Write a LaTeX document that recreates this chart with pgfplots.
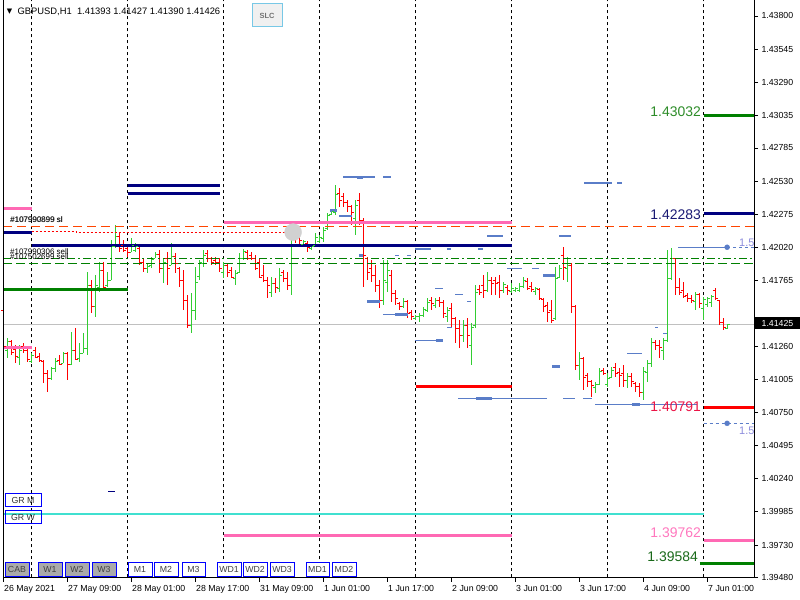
\documentclass[border=0pt]{standalone}
\usepackage{pgfplots}
\pgfplotsset{compat=1.18}
\usepackage{pgfplotstable}
\usepackage{fontspec}
\setmainfont{Liberation Sans}
\newfontfamily\dejavu{DejaVu Sans}
\definecolor{barup}{RGB}{50,205,50}
\definecolor{bardn}{RGB}{255,0,0}
\definecolor{lvgreen}{RGB}{0,128,0}
\definecolor{lvnavy}{RGB}{0,0,128}
\definecolor{lvpink}{RGB}{255,105,180}
\definecolor{lvcyan}{RGB}{64,224,208}
\definecolor{lvred}{RGB}{255,0,0}
\definecolor{lvorange}{RGB}{255,69,0}
\definecolor{lvblue}{RGB}{90,125,200}
\definecolor{lvlav}{RGB}{140,140,220}
\definecolor{btngray}{RGB}{170,170,170}
\definecolor{slcborder}{RGB}{120,200,230}
\definecolor{curgray}{RGB}{192,192,192}

\pgfplotstableread{
i h l o c d
0 1.41590 1.41213 1.41536 1.41259 -1
1 1.41320 1.41166 1.41228 1.41297 1
2 1.41305 1.41189 1.41297 1.41213 -1
3 1.41266 1.41128 1.41236 1.41182 -1
4 1.41266 1.41112 1.41174 1.41228 1
5 1.41282 1.41205 1.41259 1.41228 -1
6 1.41251 1.41136 1.41228 1.41159 -1
7 1.41205 1.41128 1.41143 1.41189 1
8 1.41251 1.41166 1.41228 1.41174 -1
9 1.41205 1.41136 1.41182 1.41151 -1
10 1.41151 1.40974 1.41143 1.41051 -1
11 1.41074 1.40905 1.41051 1.41012 -1
12 1.41097 1.40997 1.41012 1.41089 1
13 1.41166 1.41059 1.41089 1.41143 1
14 1.41189 1.41112 1.41151 1.41120 -1
15 1.41213 1.41128 1.41128 1.41205 1
16 1.41213 1.40997 1.41205 1.41120 -1
17 1.41367 1.41112 1.41120 1.41228 1
18 1.41397 1.41151 1.41228 1.41159 -1
19 1.41282 1.41136 1.41166 1.41205 1
20 1.41359 1.41205 1.41205 1.41243 1
21 1.41829 1.41189 1.41243 1.41728 1
22 1.41767 1.41513 1.41728 1.41567 -1
23 1.41805 1.41482 1.41567 1.41728 1
24 1.41906 1.41675 1.41713 1.41844 1
25 1.41906 1.41705 1.41844 1.41713 -1
26 1.41829 1.41713 1.41728 1.41767 1
27 1.42075 1.41767 1.41767 1.42029 1
28 1.42190 1.42013 1.42029 1.42106 1
29 1.42129 1.41983 1.42106 1.42013 -1
30 1.42075 1.41983 1.42036 1.41998 -1
31 1.42036 1.41944 1.42013 1.41983 -1
32 1.42090 1.41983 1.41983 1.42036 1
33 1.42052 1.41983 1.41998 1.42029 1
34 1.42021 1.41882 1.42013 1.41906 -1
35 1.41936 1.41829 1.41906 1.41859 -1
36 1.41898 1.41821 1.41859 1.41875 1
37 1.41944 1.41859 1.41882 1.41929 1
38 1.41983 1.41936 1.41936 1.41967 1
39 1.41998 1.41821 1.41967 1.41859 -1
40 1.41936 1.41744 1.41859 1.41906 1
41 1.41983 1.41728 1.41936 1.41859 -1
42 1.42052 1.41882 1.41882 1.41952 1
43 1.41975 1.41821 1.41952 1.41898 -1
44 1.41867 1.41713 1.41859 1.41767 -1
45 1.41844 1.41536 1.41767 1.41613 -1
46 1.41651 1.41397 1.41613 1.41420 -1
47 1.41667 1.41359 1.41420 1.41536 1
48 1.41867 1.41459 1.41536 1.41752 1
49 1.41921 1.41767 1.41798 1.41906 1
50 1.41998 1.41867 1.41898 1.41959 1
51 1.41998 1.41906 1.41975 1.41936 -1
52 1.41944 1.41882 1.41936 1.41906 -1
53 1.41944 1.41882 1.41921 1.41906 -1
54 1.41936 1.41829 1.41906 1.41859 -1
55 1.41906 1.41782 1.41829 1.41882 1
56 1.41898 1.41790 1.41882 1.41829 -1
57 1.41867 1.41782 1.41844 1.41790 -1
58 1.41844 1.41728 1.41782 1.41821 1
59 1.41975 1.41821 1.41829 1.41936 1
60 1.42006 1.41921 1.41936 1.41990 1
61 1.41998 1.41921 1.41983 1.41936 -1
62 1.41983 1.41921 1.41959 1.41936 -1
63 1.41959 1.41844 1.41936 1.41859 -1
64 1.41936 1.41782 1.41906 1.41790 -1
65 1.41882 1.41752 1.41805 1.41767 -1
66 1.41790 1.41628 1.41767 1.41728 -1
67 1.41790 1.41636 1.41675 1.41744 1
68 1.41782 1.41667 1.41744 1.41713 -1
69 1.41859 1.41675 1.41705 1.41805 1
70 1.41844 1.41752 1.41829 1.41782 -1
71 1.41829 1.41690 1.41782 1.41728 -1
72 1.42152 1.41651 1.41728 1.42113 1
73 1.42167 1.42052 1.42129 1.42090 -1
74 1.42152 1.42036 1.42113 1.42075 -1
75 1.42075 1.42036 1.42044 1.42067 1
76 1.42067 1.41983 1.42052 1.42021 -1
77 1.42036 1.41998 1.42013 1.42029 1
78 1.42129 1.42036 1.42036 1.42098 1
79 1.42113 1.42052 1.42067 1.42098 1
80 1.42175 1.42060 1.42090 1.42152 1
81 1.42283 1.42152 1.42167 1.42267 1
82 1.42306 1.42267 1.42275 1.42298 1
83 1.42498 1.42267 1.42291 1.42429 1
84 1.42475 1.42329 1.42437 1.42383 -1
85 1.42437 1.42329 1.42414 1.42368 -1
86 1.42383 1.42291 1.42368 1.42337 -1
87 1.42344 1.42190 1.42337 1.42291 -1
88 1.42383 1.42113 1.42244 1.42344 1
89 1.42437 1.42190 1.42383 1.42229 -1
90 1.42244 1.41713 1.42229 1.41959 -1
91 1.41944 1.41767 1.41936 1.41829 -1
92 1.41921 1.41752 1.41859 1.41805 -1
93 1.41882 1.41675 1.41805 1.41728 -1
94 1.41767 1.41551 1.41728 1.41613 -1
95 1.41921 1.41574 1.41613 1.41767 1
96 1.41921 1.41675 1.41752 1.41844 1
97 1.41844 1.41598 1.41805 1.41667 -1
98 1.41690 1.41574 1.41667 1.41628 -1
99 1.41598 1.41536 1.41590 1.41567 -1
100 1.41628 1.41551 1.41567 1.41605 1
101 1.41613 1.41474 1.41605 1.41513 -1
102 1.41536 1.41459 1.41521 1.41490 -1
103 1.41497 1.41459 1.41474 1.41490 1
104 1.41513 1.41444 1.41490 1.41497 1
105 1.41559 1.41482 1.41497 1.41544 1
106 1.41628 1.41521 1.41536 1.41598 1
107 1.41636 1.41536 1.41613 1.41590 -1
108 1.41628 1.41551 1.41574 1.41613 1
109 1.41636 1.41559 1.41613 1.41598 -1
110 1.41613 1.41474 1.41598 1.41513 -1
111 1.41559 1.41444 1.41490 1.41536 1
112 1.41590 1.41397 1.41551 1.41474 -1
113 1.41482 1.41282 1.41474 1.41397 -1
114 1.41459 1.41243 1.41397 1.41343 -1
115 1.41459 1.41290 1.41343 1.41420 1
116 1.41474 1.41243 1.41420 1.41343 -1
117 1.41436 1.41112 1.41266 1.41405 1
118 1.41728 1.41397 1.41420 1.41675 1
119 1.41728 1.41651 1.41698 1.41675 -1
120 1.41805 1.41628 1.41728 1.41690 -1
121 1.41829 1.41675 1.41690 1.41767 1
122 1.41790 1.41651 1.41767 1.41744 -1
123 1.41790 1.41651 1.41767 1.41744 -1
124 1.41805 1.41628 1.41752 1.41690 -1
125 1.41752 1.41667 1.41690 1.41736 1
126 1.41728 1.41651 1.41713 1.41690 -1
127 1.41744 1.41667 1.41682 1.41705 1
128 1.41713 1.41675 1.41690 1.41705 1
129 1.41744 1.41675 1.41690 1.41721 1
130 1.41790 1.41705 1.41721 1.41767 1
131 1.41782 1.41690 1.41759 1.41705 -1
132 1.41752 1.41675 1.41721 1.41698 -1
133 1.41713 1.41651 1.41682 1.41705 1
134 1.41705 1.41613 1.41698 1.41628 -1
135 1.41628 1.41521 1.41621 1.41567 -1
136 1.41598 1.41444 1.41574 1.41521 -1
137 1.41613 1.41436 1.41536 1.41459 -1
138 1.41867 1.41459 1.41474 1.41782 1
139 1.41882 1.41782 1.41790 1.41859 1
140 1.42021 1.41767 1.41959 1.41867 -1
141 1.41944 1.41752 1.41859 1.41882 1
142 1.41898 1.41513 1.41882 1.41567 -1
143 1.41574 1.41074 1.41567 1.41112 -1
144 1.41213 1.40997 1.41112 1.41166 1
145 1.41174 1.40920 1.41166 1.41020 -1
146 1.41051 1.40943 1.41035 1.40989 -1
147 1.40997 1.40866 1.40989 1.40958 -1
148 1.40982 1.40897 1.40943 1.40966 1
149 1.41089 1.40958 1.40966 1.41066 1
150 1.41089 1.41035 1.41074 1.41051 -1
151 1.41051 1.40943 1.40966 1.41012 1
152 1.41097 1.41012 1.41020 1.41074 1
153 1.41128 1.41020 1.41097 1.41051 -1
154 1.41089 1.40943 1.41059 1.41035 -1
155 1.41112 1.40943 1.41051 1.40997 -1
156 1.41051 1.40935 1.40997 1.41028 1
157 1.41051 1.40943 1.41028 1.40989 -1
158 1.40982 1.40905 1.40974 1.40951 -1
159 1.40974 1.40866 1.40951 1.40905 -1
160 1.41097 1.40843 1.40905 1.41066 1
161 1.41151 1.40982 1.41059 1.41128 1
162 1.41320 1.41097 1.41128 1.41290 1
163 1.41305 1.41228 1.41290 1.41266 -1
164 1.41305 1.41166 1.41266 1.41251 -1
165 1.41320 1.41151 1.41228 1.41305 1
166 1.41998 1.41290 1.41305 1.41782 1
167 1.42013 1.41767 1.41782 1.41936 1
168 1.41936 1.41651 1.41936 1.41713 -1
169 1.41782 1.41651 1.41713 1.41675 -1
170 1.41752 1.41628 1.41690 1.41644 -1
171 1.41667 1.41598 1.41651 1.41628 -1
172 1.41651 1.41590 1.41628 1.41613 -1
173 1.41675 1.41536 1.41605 1.41659 1
174 1.41667 1.41551 1.41659 1.41590 -1
175 1.41636 1.41459 1.41551 1.41621 1
176 1.41636 1.41559 1.41582 1.41628 1
177 1.41651 1.41559 1.41598 1.41644 1
178 1.41705 1.41613 1.41690 1.41628 -1
179 1.41613 1.41420 1.41613 1.41444 -1
180 1.41474 1.41382 1.41444 1.41405 -1
181 1.41427 1.41390 1.41393 1.41426 1
}\bars

\begin{document}
\begin{tikzpicture}
\path[use as bounding box] (0,0) rectangle (800bp,600bp);
\begin{axis}[
  at={(3bp,22.5bp)}, anchor=south west,
  scale only axis, width=751bp, height=577.5bp,
  xmin=-0.125, xmax=187.625,
  ymin=1.39480, ymax=1.43923,
  axis x line*=bottom, axis y line*=right,
  axis line style={line width=1bp, black},
  tick align=outside, major tick length=4bp,
  tick style={black, line width=0.8bp},
  minor tick num=0,
  xtick={0,16,32,48,64,80,96,112,128,144,160,176},
  xticklabels={26 May 2021,27 May 09:00,28 May 01:00,28 May 17:00,31 May 09:00,1 Jun 01:00,1 Jun 17:00,2 Jun 09:00,3 Jun 01:00,3 Jun 17:00,4 Jun 09:00,7 Jun 01:00},
  ytick={1.43800,1.43545,1.43290,1.43035,1.42785,1.42530,1.42275,1.42020,1.41765,1.41260,1.41005,1.40750,1.40495,1.40240,1.39985,1.39730,1.39480},
  yticklabels={1.43800,1.43545,1.43290,1.43035,1.42785,1.42530,1.42275,1.42020,1.41765,1.41260,1.41005,1.40750,1.40495,1.40240,1.39985,1.39730,1.39480},
  ticklabel style={font=\fontsize{8.8}{10}\selectfont, text=black},
  xticklabel style={anchor=north west, xshift=-2.8bp},
  yticklabel style={anchor=west},
  unbounded coords=jump,
]
% day separators
\pgfplotsinvokeforeach{7,31,55,79,103,127,151,175}{
  \addplot[black, line width=1bp, dash pattern=on 3bp off 3bp, forget plot] coordinates {(#1,1.3948) (#1,1.43923)};
}
% current price line
\addplot[curgray, line width=1bp, forget plot] coordinates {(-0.125,1.41425) (187.625,1.41425)};

% bars: high-low lines, one per bar, read from the table
\pgfplotsforeachungrouped \k in {0,...,181}{%
  \pgfplotstablegetelem{\k}{h}\of\bars \let\hv\pgfplotsretval
  \pgfplotstablegetelem{\k}{l}\of\bars \let\lv\pgfplotsretval
  \pgfplotstablegetelem{\k}{d}\of\bars
  \ifnum\pgfplotsretval>0 \def\bc{barup}\else\def\bc{bardn}\fi
  \edef\doplot{\noexpand\addplot[\bc, line width=1.5bp, forget plot] coordinates {(\k,\hv) (\k,\lv)};}%
  \doplot
}
% open / close ticks
\addplot[only marks, mark=-, mark size=1.1bp, barup, line width=1bp, forget plot,
  mark options={xshift=-1.2bp}, restrict expr to domain={\thisrow{d}}{0:2}]
  table[x=i, y=o] {\bars};
\addplot[only marks, mark=-, mark size=1.1bp, barup, line width=1bp, forget plot,
  mark options={xshift=1.2bp}, restrict expr to domain={\thisrow{d}}{0:2}]
  table[x=i, y=c] {\bars};
\addplot[only marks, mark=-, mark size=1.1bp, bardn, line width=1bp, forget plot,
  mark options={xshift=-1.2bp}, restrict expr to domain={\thisrow{d}}{-2:0}]
  table[x=i, y=o] {\bars};
\addplot[only marks, mark=-, mark size=1.1bp, bardn, line width=1bp, forget plot,
  mark options={xshift=1.2bp}, restrict expr to domain={\thisrow{d}}{-2:0}]
  table[x=i, y=c] {\bars};

% dashed level lines
\addplot[lvorange, line width=1.2bp, dash pattern=on 9bp off 5bp, forget plot] coordinates {(-0.125,1.42183) (187.625,1.42183)};
\addplot[red, line width=1bp, dash pattern=on 2bp off 2bp, forget plot] coordinates {(7,1.42144) (18.2,1.42144) (18.2,1.42137) (72.2,1.42137)};
\addplot[lvgreen, line width=1.2bp, dash pattern=on 8bp off 3bp on 2bp off 3bp, forget plot] coordinates {(-0.125,1.41936) (187.625,1.41936)};
\addplot[lvgreen, line width=1.2bp, dash pattern=on 9bp off 4bp, forget plot] coordinates {(-0.125,1.41898) (187.625,1.41898)};

% thick level segments
\addplot[lvpink, line width=3bp, forget plot] coordinates {(-0.125,1.42321) (7,1.42321)};
\addplot[lvnavy, line width=3bp, forget plot] coordinates {(-0.125,1.42137) (7,1.42137)};
\addplot[lvgreen, line width=3.2bp, forget plot] coordinates {(-0.125,1.41698) (31,1.41698)};
\addplot[lvpink, line width=3bp, forget plot] coordinates {(-0.125,1.41251) (7,1.41251)};
\addplot[lvnavy, line width=3bp, forget plot] coordinates {(31,1.42498) (54,1.42498)};
\addplot[lvnavy, line width=3bp, forget plot] coordinates {(31,1.42437) (54,1.42437)};
\addplot[lvnavy, line width=3bp, forget plot] coordinates {(7,1.42036) (127,1.42036)};
\addplot[lvpink, line width=3bp, forget plot] coordinates {(55,1.42214) (127,1.42214)};
\addplot[lvred, line width=3bp, forget plot] coordinates {(103,1.40951) (127,1.40951)};
\addplot[lvpink, line width=3bp, forget plot] coordinates {(55,1.39804) (127,1.39804)};
\addplot[lvcyan, line width=2bp, forget plot] coordinates {(-0.125,1.39965) (175,1.39965)};
\addplot[lvgreen, line width=3bp, forget plot] coordinates {(175,1.43032) (187.625,1.43032)};
\addplot[lvnavy, line width=3bp, forget plot] coordinates {(175,1.42283) (187.625,1.42283)};
\addplot[lvred, line width=3bp, forget plot] coordinates {(175,1.40791) (187.625,1.40791)};
\addplot[lvpink, line width=3bp, forget plot] coordinates {(175,1.39762) (187.625,1.39762)};
\addplot[lvgreen, line width=3bp, forget plot] coordinates {(174,1.39584) (187.625,1.39584)};
\addplot[lvnavy, line width=1bp, forget plot] coordinates {(26.2,1.40142) (27.9,1.40142)};

% blue order segments (thin)
\addplot[lvblue, line width=1.4bp, forget plot] coordinates {
(84.9,1.42560) (92.9,1.42560) (92.9,nan)
(94.9,1.42560) (96.9,1.42560) (96.9,nan)
(145.2,1.42514) (152.2,1.42514) (152.2,nan)
(153.4,1.42514) (154.7,1.42514) (154.7,nan)
(83.9,1.42260) (87.2,1.42260) (87.2,nan)
(120.9,1.42106) (124.9,1.42106) (124.9,nan)
(138.9,1.42106) (141.9,1.42106) (141.9,nan)
(102.9,1.42006) (106.9,1.42006) (106.9,nan)
(110.9,1.42006) (111.9,1.42006) (111.9,nan)
(118.7,1.42006) (119.9,1.42006) (119.9,nan)
(97.9,1.41959) (98.9,1.41959) (98.9,nan)
(100.9,1.41959) (101.9,1.41959) (101.9,nan)
(125.9,1.41859) (129.7,1.41859) (129.7,nan)
(132.2,1.41859) (133.9,1.41859) (133.9,nan)
(107.9,1.41705) (109.9,1.41705) (109.9,nan)
(112.9,1.41659) (114.9,1.41659) (114.9,nan)
(115.9,1.41605) (116.9,1.41605) (116.9,nan)
(94.9,1.41505) (101.2,1.41505) (101.2,nan)
(110.9,1.41405) (112.2,1.41405) (112.2,nan)
(162.9,1.41405) (163.7,1.41405) (163.7,nan)
(164.9,1.41359) (165.9,1.41359) (165.9,nan)
(102.9,1.41305) (109.9,1.41305) (109.9,nan)
(155.9,1.41205) (159.7,1.41205) (159.7,nan)
(113.7,1.40858) (135.9,1.40858) (135.9,nan)
(139.9,1.40858) (142.9,1.40858) (142.9,nan)
(144.9,1.40858) (147.2,1.40858) (147.2,nan)
(147.9,1.40812) (173.4,1.40812) (173.4,nan)
(168.7,1.42021) (180.9,1.42021)
};
% blue order segments (thick parts)
\addplot[lvblue, line width=3bp, forget plot] coordinates {
(88.4,1.42560) (89.9,1.42560) (89.9,nan)
(81.7,1.42306) (83.4,1.42306) (83.4,nan)
(88.9,1.41959) (89.9,1.41959) (89.9,nan)
(134.9,1.41805) (137.9,1.41805) (137.9,nan)
(90.9,1.41605) (94.2,1.41605) (94.2,nan)
(97.9,1.41505) (101.2,1.41505) (101.2,nan)
(108.2,1.41305) (109.9,1.41305) (109.9,nan)
(137.2,1.41105) (139.2,1.41105) (139.2,nan)
(118.2,1.40858) (122.2,1.40858) (122.2,nan)
(157.2,1.40812) (159.2,1.40812)
};
\addplot[lvblue, line width=1.2bp, dash pattern=on 3bp off 3bp, forget plot] coordinates {(180.9,1.42021) (187.625,1.42021)};
\addplot[lvblue, line width=1.2bp, dash pattern=on 3bp off 3bp, forget plot] coordinates {(175,1.40666) (187.625,1.40666)};
\addplot[only marks, mark=*, mark size=2.5bp, lvblue, forget plot] coordinates {(180.9,1.42021) (180.9,1.40666)};
\addplot[only marks, mark=*, mark size=8.5bp, color=black!18, forget plot] coordinates {(72.4,1.42137)};
\end{axis}

\begin{scope}[x=1bp, y=-1bp, shift={(0,600bp)}]
  \draw[black, line width=1bp] (3,0) -- (3,577.5);
  % title
  \node[anchor=center, inner sep=0pt] at (9.5,11.5) {\dejavu\fontsize{7}{8}\selectfont ▼};
  \node[anchor=west, inner sep=0pt, font=\fontsize{9.4}{11}\selectfont] at (17.5,12) {GBPUSD,H1\ \ 1.41393 1.41427 1.41390 1.41426};
  % SLC button
  \draw[slcborder, fill=black!6, line width=1bp] (252,4) rectangle (282,27);
  \node[inner sep=0pt, text=black!55, font=\bfseries\fontsize{7.5}{9}\selectfont] at (267,15.5) {SLC};
  % order labels
  \node[anchor=west, inner sep=0pt, font=\fontsize{8}{9}\selectfont] at (10,220) {\#107990899 sl};
  \node[anchor=west, inner sep=0pt, font=\fontsize{8}{9}\selectfont, opacity=0.6] at (10.5,219.5) {\#107992699 sl};
  \node[anchor=west, inner sep=0pt, font=\fontsize{8}{9}\selectfont] at (10,251.5) {\#107990306 sell};
  \node[anchor=west, inner sep=0pt, font=\fontsize{8}{9}\selectfont] at (10,257) {\#107502699 sell};
  % price labels on the right
  \node[anchor=east, inner sep=0pt, text={rgb,255:red,45;green,140;blue,40}, font=\fontsize{14}{16}\selectfont] at (701,112) {1.43032};
  \node[anchor=east, inner sep=0pt, text={rgb,255:red,25;green,25;blue,115}, font=\fontsize{14}{16}\selectfont] at (701,215) {1.42283};
  \node[anchor=east, inner sep=0pt, text={rgb,255:red,235;green,20;blue,70}, font=\fontsize{14}{16}\selectfont] at (701,407) {1.40791};
  \node[anchor=east, inner sep=0pt, text={rgb,255:red,255;green,120;blue,190}, font=\fontsize{14}{16}\selectfont] at (701,533) {1.39762};
  \node[anchor=east, inner sep=0pt, text={rgb,255:red,25;green,105;blue,25}, font=\fontsize{14}{16}\selectfont] at (698,557) {1.39584};
  \node[anchor=west, inner sep=0pt, text=lvlav, font=\fontsize{11}{12}\selectfont] at (739,243) {1.5};
  \node[anchor=west, inner sep=0pt, text=lvlav, font=\fontsize{11}{12}\selectfont] at (739,431) {1.5};
  % current price box
  \fill[black] (755,317) rectangle (800,329.5);
  \node[inner sep=0pt, text=white, font=\fontsize{8.8}{10}\selectfont] at (777.5,323.3) {1.41425};
  % GR boxes
  \draw[blue, line width=1bp] (5,494) rectangle (41,507);
  \node[inner sep=0pt, font=\fontsize{8.8}{10}\selectfont, text=black!80] at (23,500.5) {GR M};
  \draw[blue, line width=1bp] (5,511) rectangle (41,524);
  \node[inner sep=0pt, font=\fontsize{8.8}{10}\selectfont, text=black!80] at (23,517.5) {GR W};
  % bottom buttons
  \foreach \a/\b/\t in {5/29/CAB,38/62/W1,65/89/W2,92/116/W3}{
    \draw[blue, fill=btngray, line width=1bp] (\a,563) rectangle (\b,576.5);
    \node[inner sep=0pt, font=\fontsize{8.8}{10}\selectfont, text=black!75] at ({(\a+\b)/2},569.8) {\t};
  }
  \foreach \a/\b/\t in {128/152/M1,154/178/M2,182/205/M3,217/241/WD1,243/267/WD2,270/294/WD3,306/329/MD1,332/356/MD2}{
    \draw[blue, fill=white, line width=1bp] (\a,563) rectangle (\b,576.5);
    \node[inner sep=0pt, font=\fontsize{8.8}{10}\selectfont, text=black!75] at ({(\a+\b)/2},569.8) {\t};
  }
\end{scope}
\end{tikzpicture}
\end{document}
